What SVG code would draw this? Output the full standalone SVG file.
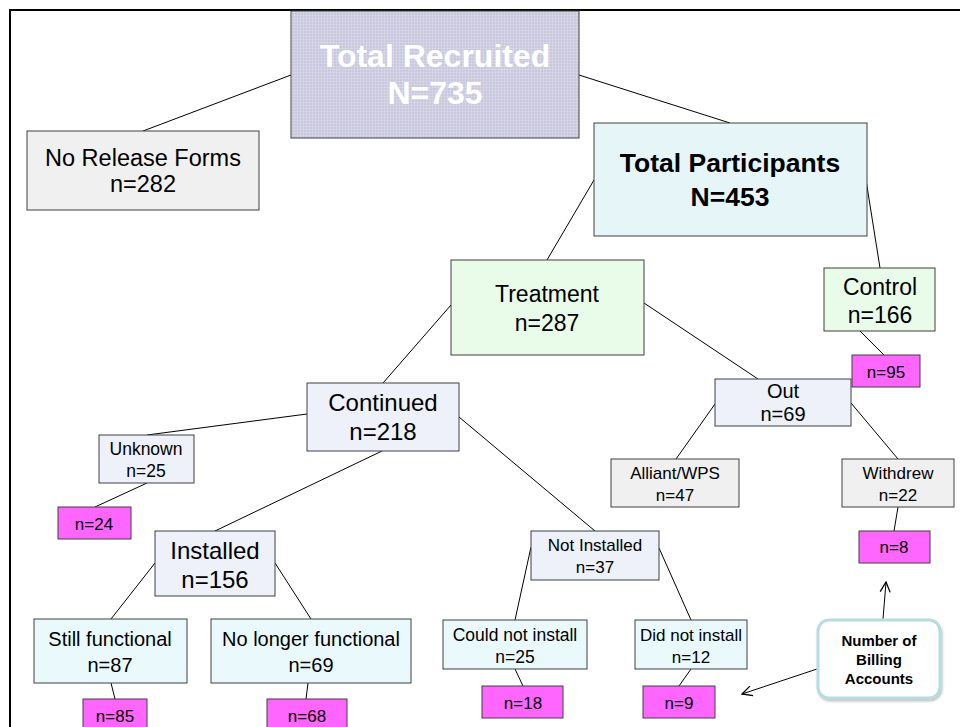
<svg xmlns="http://www.w3.org/2000/svg" width="960" height="727" viewBox="0 0 960 727">
<style>
  .box { stroke: #404040; stroke-width: 1; }
  .t { font-family: "Liberation Sans", Arial, sans-serif; fill: #000; text-anchor: middle; }
  .b { font-weight: bold; }
  .conn line { stroke: #000; stroke-width: 1; }
  .pink { fill: #ff66ff; }
  .lav { fill: #eef0fa; }
  .cyan { fill: #eafafc; }
  .green { fill: #e9fbe9; }
  .gray { fill: #f0f0f0; }
</style>
<defs>
  <pattern id="grid" width="3" height="3" patternUnits="userSpaceOnUse">
    <path d="M0,0 H3 M0,0 V3" stroke="#ffffff" stroke-opacity="0.35" stroke-width="1" fill="none"/>
  </pattern>
  <marker id="arr" viewBox="0 0 12 12" refX="11" refY="6" markerWidth="12" markerHeight="12" markerUnits="userSpaceOnUse" orient="auto">
    <path d="M1,1 L11,6 L1,11" fill="none" stroke="#000" stroke-width="1.3"/>
  </marker>
  <filter id="sh" x="-10%" y="-10%" width="130%" height="130%">
    <feDropShadow dx="1" dy="2" stdDeviation="1" flood-color="#888" flood-opacity="0.5"/>
  </filter>
</defs>
<rect width="960" height="727" fill="#fff"/>
<g id="frame">
  <line x1="9" y1="10" x2="960" y2="10" stroke="#000" stroke-width="2"/>
  <line x1="10" y1="9" x2="10" y2="727" stroke="#000" stroke-width="2"/>
</g>
<g class="conn" id="connectors">
  <line x1="291" y1="75" x2="143" y2="131"/>
  <line x1="579" y1="75" x2="730" y2="123"/>
  <line x1="594" y1="180" x2="547" y2="260"/>
  <line x1="866" y1="180" x2="880" y2="268"/>
  <line x1="860" y1="331" x2="884" y2="355"/>
  <line x1="451" y1="305" x2="383" y2="383"/>
  <line x1="644" y1="303" x2="758" y2="379"/>
  <line x1="307" y1="414" x2="147" y2="435"/>
  <line x1="147" y1="483" x2="95" y2="507"/>
  <line x1="382" y1="451" x2="215" y2="531"/>
  <line x1="459" y1="417" x2="595" y2="531"/>
  <line x1="155" y1="563" x2="111" y2="619"/>
  <line x1="275" y1="563" x2="311" y2="619"/>
  <line x1="111" y1="683" x2="115" y2="699"/>
  <line x1="308" y1="683" x2="306" y2="699"/>
  <line x1="531" y1="547" x2="515" y2="620"/>
  <line x1="659" y1="548" x2="691" y2="620"/>
  <line x1="515" y1="669" x2="523" y2="686"/>
  <line x1="691" y1="669" x2="679" y2="686"/>
  <line x1="715" y1="404" x2="676" y2="459"/>
  <line x1="851" y1="403" x2="898" y2="459"/>
  <line x1="898" y1="507" x2="894" y2="531"/>
  <line x1="817" y1="669" x2="742" y2="694" marker-end="url(#arr)"/>
  <line x1="883" y1="619" x2="886" y2="582" marker-end="url(#arr)"/>
</g>
<g id="recruited">
  <rect class="box" x="291" y="11" width="288" height="127" fill="#c8c8de"/>
  <rect x="291.5" y="11.5" width="287" height="126" fill="url(#grid)"/>
  <text class="t b" x="435" y="67" font-size="32" style="fill:#fff">Total Recruited</text>
  <text class="t b" x="435" y="104" font-size="32" style="fill:#fff">N=735</text>
</g>
<g id="norelease">
  <rect class="box gray" x="27" y="131" width="232" height="79"/>
  <text class="t" x="143" y="166" font-size="23.5">No Release Forms</text>
  <text class="t" x="143" y="192" font-size="23.5">n=282</text>
</g>
<g id="participants">
  <rect class="box" x="594" y="123" width="273" height="113" fill="#e5f5f8"/>
  <text class="t b" x="730" y="172" font-size="26.5">Total Participants</text>
  <text class="t b" x="730" y="206" font-size="26.5">N=453</text>
</g>
<g id="treatment">
  <rect class="box green" x="451" y="260" width="193" height="95"/>
  <text class="t" x="547" y="302" font-size="23">Treatment</text>
  <text class="t" x="547" y="331" font-size="23">n=287</text>
</g>
<g id="control">
  <rect class="box green" x="824" y="268" width="111" height="63"/>
  <text class="t" x="880" y="295" font-size="23">Control</text>
  <text class="t" x="880" y="323" font-size="23">n=166</text>
</g>
<g id="n95">
  <rect class="box pink" x="852" y="355" width="68" height="32"/>
  <text class="t" x="886" y="378" font-size="17">n=95</text>
</g>
<g id="continued">
  <rect class="box lav" x="307" y="383" width="152" height="68"/>
  <text class="t" x="383" y="411" font-size="24">Continued</text>
  <text class="t" x="383" y="440" font-size="24">n=218</text>
</g>
<g id="unknown">
  <rect class="box lav" x="99" y="435" width="95" height="48"/>
  <text class="t" x="146" y="455" font-size="17.5">Unknown</text>
  <text class="t" x="146" y="477" font-size="17.5">n=25</text>
</g>
<g id="n24">
  <rect class="box pink" x="58" y="507" width="73" height="32"/>
  <text class="t" x="94" y="530" font-size="17">n=24</text>
</g>
<g id="installed">
  <rect class="box lav" x="155" y="531" width="120" height="65"/>
  <text class="t" x="215" y="559" font-size="24">Installed</text>
  <text class="t" x="215" y="588" font-size="24">n=156</text>
</g>
<g id="out">
  <rect class="box lav" x="715" y="379" width="136" height="47"/>
  <text class="t" x="783" y="398" font-size="20">Out</text>
  <text class="t" x="783" y="421" font-size="20">n=69</text>
</g>
<g id="alliant">
  <rect class="box gray" x="611" y="459" width="128" height="48"/>
  <text class="t" x="675" y="479" font-size="17">Alliant/WPS</text>
  <text class="t" x="675" y="501" font-size="17">n=47</text>
</g>
<g id="withdrew">
  <rect class="box gray" x="842" y="459" width="112" height="48"/>
  <text class="t" x="898" y="479" font-size="17">Withdrew</text>
  <text class="t" x="898" y="501" font-size="17">n=22</text>
</g>
<g id="n8">
  <rect class="box pink" x="859" y="531" width="71" height="32"/>
  <text class="t" x="894" y="553" font-size="17">n=8</text>
</g>
<g id="notinstalled">
  <rect class="box lav" x="531" y="531" width="128" height="49"/>
  <text class="t" x="595" y="551" font-size="17">Not Installed</text>
  <text class="t" x="595" y="573" font-size="17">n=37</text>
</g>
<g id="stillfunctional">
  <rect class="box cyan" x="34" y="619" width="153" height="64"/>
  <text class="t" x="110" y="646" font-size="20">Still functional</text>
  <text class="t" x="110" y="672" font-size="20">n=87</text>
</g>
<g id="nolonger">
  <rect class="box cyan" x="211" y="619" width="200" height="64"/>
  <text class="t" x="311" y="646" font-size="20">No longer functional</text>
  <text class="t" x="311" y="672" font-size="20">n=69</text>
</g>
<g id="n85">
  <rect class="box pink" x="83" y="699" width="64" height="32"/>
  <text class="t" x="115" y="722" font-size="17">n=85</text>
</g>
<g id="n68">
  <rect class="box pink" x="267" y="699" width="80" height="32"/>
  <text class="t" x="307" y="722" font-size="17">n=68</text>
</g>
<g id="couldnot">
  <rect class="box cyan" x="443" y="620" width="144" height="49"/>
  <text class="t" x="515" y="641" font-size="17.5">Could not install</text>
  <text class="t" x="515" y="663" font-size="17.5">n=25</text>
</g>
<g id="didnot">
  <rect class="box cyan" x="635" y="620" width="112" height="49"/>
  <text class="t" x="691" y="641" font-size="17">Did not install</text>
  <text class="t" x="691" y="663" font-size="17">n=12</text>
</g>
<g id="n18">
  <rect class="box pink" x="482" y="686" width="81" height="32"/>
  <text class="t" x="523" y="709" font-size="17">n=18</text>
</g>
<g id="n9">
  <rect class="box pink" x="643" y="686" width="72" height="32"/>
  <text class="t" x="679" y="709" font-size="17">n=9</text>
</g>
<g id="billing">
  <rect x="818" y="620" width="122" height="78" rx="11" ry="11" fill="#fff" stroke="#b5dde2" stroke-width="3" filter="url(#sh)"/>
  <text class="t b" x="879" y="646" font-size="15">Number of</text>
  <text class="t b" x="879" y="665" font-size="15">Billing</text>
  <text class="t b" x="879" y="684" font-size="15">Accounts</text>
</g>
</svg>
